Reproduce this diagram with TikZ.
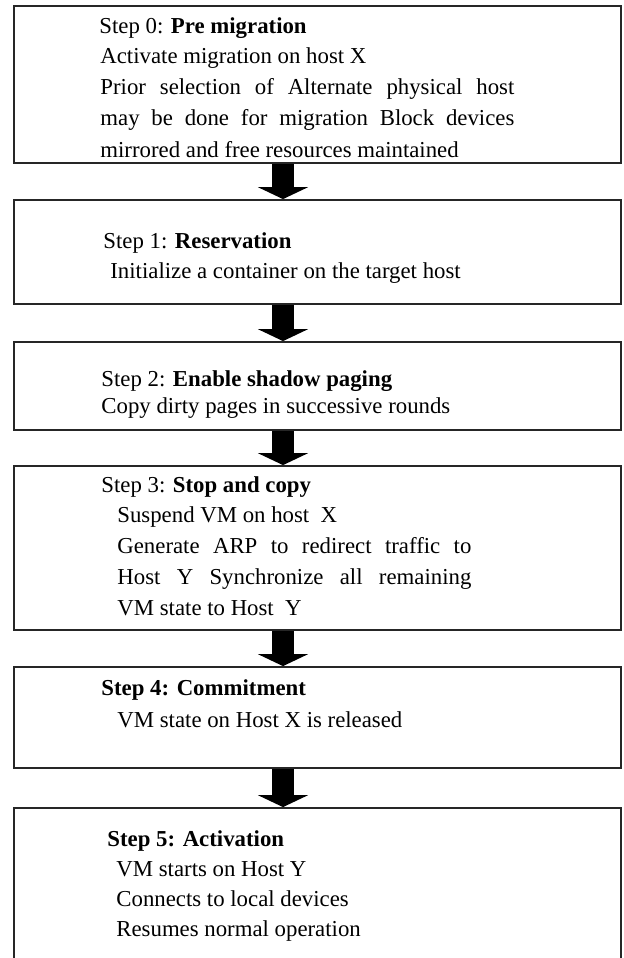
\documentclass[tikz,border=0pt]{standalone}
\usepackage{fontspec}
\setmainfont{Liberation Serif}
\usetikzlibrary{arrows.meta}
\tikzset{
  stepbox/.style={draw=black!85, line width=0.9pt, minimum width=303.5pt, inner sep=0pt},
  steptext/.style={anchor=base west, inner sep=0pt, align=left, font=\fontsize{11.4}{15.5}\selectfont},
  flowarrow/.style={line width=11pt, -{Triangle[width=25pt, length=6pt]}}
}
\begin{document}
\begin{tikzpicture}[x=0.5pt, y=-0.5pt]
\useasboundingbox (0,0) rectangle (623,958);
\node[stepbox, minimum height=78.5pt] (b0) at (317.5,84.5) {};
\node[stepbox, minimum height=52pt] (b1) at (317.5,252) {};
\node[stepbox, minimum height=44pt] (b2) at (317.5,386) {};
\node[stepbox, minimum height=82pt] (b3) at (317.5,548) {};
\node[stepbox, minimum height=50.5pt] (b4) at (317.5,717.5) {};
\node[stepbox, minimum height=80pt] (b5) at (317.5,888) {};
\node[steptext] (h0) at (99,33) {Step 0: \textbf{Pre migration}};
\node[steptext] (d0) at (100,157) {Activate migration on host X\\[0.15pt]
  \makebox[207pt][s]{Prior selection of Alternate physical host}\\[0.15pt]
  \makebox[207pt][s]{may be done for migration Block devices}\\[0.15pt]
  mirrored and free resources maintained};
\node[steptext] (h1) at (103,248) {Step 1: \textbf{Reservation}};
\node[steptext] (d1) at (110,278) {Initialize a container on the target host};
\node[steptext] (h2) at (101,386) {Step 2: \textbf{Enable shadow paging}};
\node[steptext] (d2) at (101,413) {Copy dirty pages in successive rounds};
\node[steptext] (h3) at (101,492) {Step 3: \textbf{Stop and copy}};
\node[steptext] (d3) at (117,615) {Suspend VM on host~~X\\[-0.15pt]
  \makebox[177pt][s]{Generate ARP to redirect traffic to}\\[-0.15pt]
  \makebox[177pt][s]{Host Y Synchronize all remaining}\\[-0.15pt]
  VM state to Host~~Y};
\node[steptext] (h4) at (101,695) {\textbf{Step 4: Commitment}};
\node[steptext] (d4) at (117,727) {VM state on Host X is released};
\node[steptext] (h5) at (107,846) {\textbf{Step 5: Activation}};
\node[steptext] (d5) at (116,936) {VM starts on Host Y\\[-0.5pt]
  Connects to local devices\\[-0.5pt]
  Resumes normal operation};
\coordinate (ax) at (283,0);
\draw[flowarrow] (b0.south -| ax) -- (b1.north -| ax);
\draw[flowarrow] (b1.south -| ax) -- (b2.north -| ax);
\draw[flowarrow] (b2.south -| ax) -- (b3.north -| ax);
\draw[flowarrow] (b3.south -| ax) -- (b4.north -| ax);
\draw[flowarrow] (b4.south -| ax) -- (b5.north -| ax);
\end{tikzpicture}
\end{document}
